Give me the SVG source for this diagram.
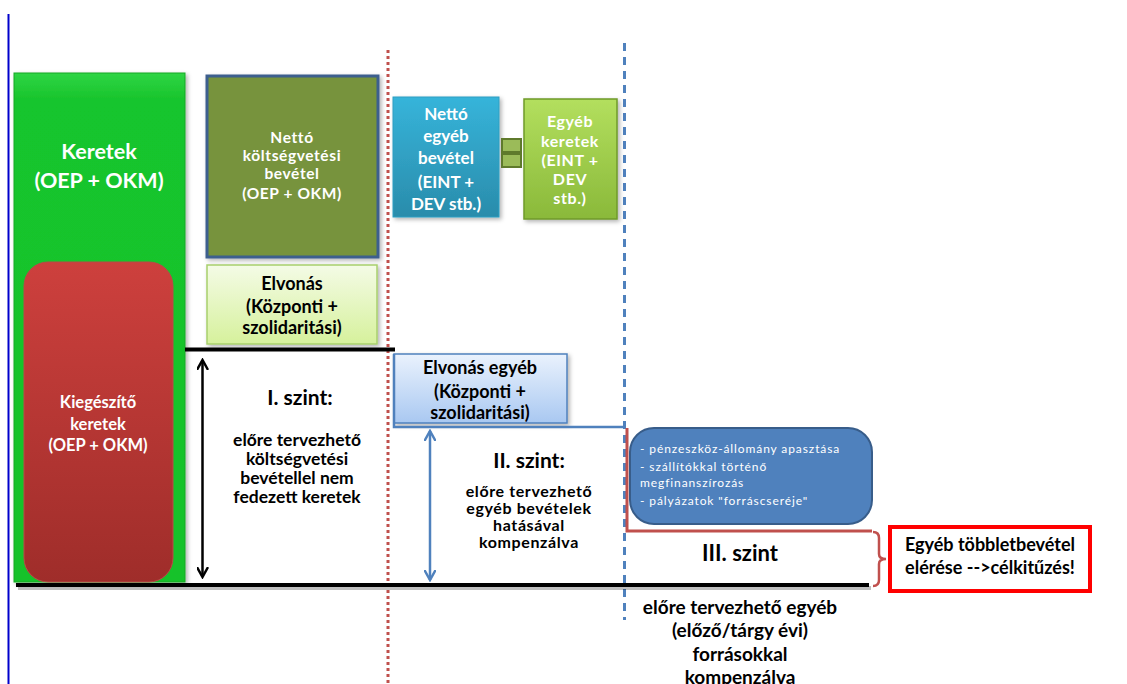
<svg xmlns="http://www.w3.org/2000/svg" width="1127" height="684" viewBox="0 0 1127 684">
<defs>
<linearGradient id="gGreen" x1="0" y1="0" x2="0" y2="1"><stop offset="0" stop-color="#2fd545"/><stop offset="0.05" stop-color="#19c52d"/><stop offset="1" stop-color="#17c22b"/></linearGradient>
<linearGradient id="gRed" x1="0" y1="0" x2="0" y2="1"><stop offset="0" stop-color="#cd403d"/><stop offset="1" stop-color="#9f2d2a"/></linearGradient>
<linearGradient id="gLight" x1="0" y1="0" x2="0" y2="1"><stop offset="0" stop-color="#f4fbe6"/><stop offset="1" stop-color="#d6f19c"/></linearGradient>
<linearGradient id="gCyan" x1="0" y1="0" x2="0" y2="1"><stop offset="0" stop-color="#36b4da"/><stop offset="1" stop-color="#2a8cab"/></linearGradient>
<linearGradient id="gLime" x1="0" y1="0" x2="0" y2="1"><stop offset="0" stop-color="#b3df5e"/><stop offset="1" stop-color="#8ab93a"/></linearGradient>
<linearGradient id="gSky" x1="0" y1="0" x2="0" y2="1"><stop offset="0" stop-color="#eaf2fd"/><stop offset="1" stop-color="#a9c8f1"/></linearGradient>
<filter id="sh" x="-10%" y="-10%" width="130%" height="130%"><feDropShadow dx="2" dy="2" stdDeviation="2" flood-color="#000" flood-opacity="0.3"/></filter>
<marker id="ahK" viewBox="0 0 12 12" refX="10" refY="6" markerWidth="12" markerHeight="12" markerUnits="userSpaceOnUse" orient="auto-start-reverse"><path d="M1,1 L10,6 L1,11" fill="none" stroke="#000" stroke-width="2.5" stroke-linecap="round"/></marker>
<marker id="ahB" viewBox="0 0 12 12" refX="10" refY="6" markerWidth="12" markerHeight="12" markerUnits="userSpaceOnUse" orient="auto-start-reverse"><path d="M1,1 L10,6 L1,11" fill="none" stroke="#4f81bd" stroke-width="2.5" stroke-linecap="round"/></marker>
</defs>
<style>
text{font-family:Lato,"Liberation Sans",sans-serif;font-weight:bold;text-anchor:middle}
.w{fill:#fff}
.k{fill:#000}
.bl{font-weight:normal;text-anchor:start;fill:#fff;font-size:12px;letter-spacing:0.9px}
</style>
<rect width="1127" height="684" fill="#fff"/>

<g id="guides">
<line x1="8.5" y1="14" x2="8.5" y2="684" stroke="#0000cc" stroke-width="2"/>
<line x1="388" y1="50" x2="388" y2="684" stroke="#c0504d" stroke-width="3" stroke-dasharray="3,3"/>
<line x1="624.5" y1="43" x2="624.5" y2="620" stroke="#4f81bd" stroke-width="3" stroke-dasharray="8,6"/>
</g>

<g id="keretek">
<rect x="14" y="73" width="171" height="509" fill="url(#gGreen)" stroke="#14a826" stroke-width="1" filter="url(#sh)"/>
<text class="w" font-size="21.5" x="99" y="159">Keretek</text>
<text class="w" font-size="21.5" x="99" y="188">(OEP + OKM)</text>
</g>

<g id="kiegeszito">
<rect x="24" y="262" width="149" height="320" rx="24" fill="url(#gRed)" stroke="#b84a46" stroke-width="1"/>
<text class="w" font-size="16.5" x="98" y="408">Kiegészítő</text>
<text class="w" font-size="16.5" x="98" y="430">keretek</text>
<text class="w" font-size="16.5" x="98" y="451">(OEP + OKM)</text>
</g>

<g id="netto-kv">
<rect x="207" y="76" width="171" height="181" fill="#77933c" stroke="#3d5f8e" stroke-width="3" filter="url(#sh)"/>
<text class="w" font-size="15.5" letter-spacing="0.6" x="292" y="143">Nettó</text>
<text class="w" font-size="15.5" letter-spacing="0.6" x="292" y="161">költségvetési</text>
<text class="w" font-size="15.5" letter-spacing="0.6" x="292" y="179">bevétel</text>
<text class="w" font-size="15.5" letter-spacing="0.6" x="292" y="199">(OEP + OKM)</text>
</g>

<g id="elvonas">
<rect x="207" y="265" width="170" height="79" fill="url(#gLight)" stroke="#a8cf6c" stroke-width="1.5" filter="url(#sh)"/>
<text class="k" font-size="18" x="292" y="290">Elvonás</text>
<text class="k" font-size="18" x="292" y="313">(Központi +</text>
<text class="k" font-size="18" x="292" y="334">szolidaritási)</text>
</g>

<g id="netto-egyeb">
<rect x="393" y="97" width="106" height="120" fill="url(#gCyan)" stroke="#2d9ec2" stroke-width="1" filter="url(#sh)"/>
<text class="w" font-size="17" x="446" y="120">Nettó</text>
<text class="w" font-size="17" x="446" y="142">egyéb</text>
<text class="w" font-size="17" x="446" y="164">bevétel</text>
<text class="w" font-size="17" x="446" y="188">(EINT +</text>
<text class="w" font-size="17" x="446" y="210">DEV stb.)</text>
</g>

<g id="equals">
<rect x="502" y="139" width="19" height="13" fill="#9bbb59" stroke="#5f7a2c" stroke-width="2"/>
<rect x="502" y="154" width="19" height="13" fill="#9bbb59" stroke="#5f7a2c" stroke-width="2"/>
</g>

<g id="egyeb-keretek">
<rect x="524" y="99" width="93" height="120" fill="url(#gLime)" stroke="#6f9a2a" stroke-width="1.5" filter="url(#sh)"/>
<text class="w" font-size="16" letter-spacing="0.6" x="570" y="127">Egyéb</text>
<text class="w" font-size="16" letter-spacing="0.6" x="570" y="147">keretek</text>
<text class="w" font-size="16" letter-spacing="0.6" x="570" y="166">(EINT +</text>
<text class="w" font-size="16" letter-spacing="0.6" x="570" y="185">DEV</text>
<text class="w" font-size="16" letter-spacing="0.6" x="570" y="204">stb.)</text>
</g>

<g id="elvonas-egyeb">
<rect x="394" y="354" width="173" height="69" fill="url(#gSky)" stroke="#4f81bd" stroke-width="1.5" filter="url(#sh)"/>
<text class="k" font-size="18" x="480" y="374">Elvonás  egyéb</text>
<text class="k" font-size="18" x="480" y="398">(Központi +</text>
<text class="k" font-size="18" x="480" y="419">szolidaritási)</text>
</g>

<g id="forrasok">
<rect x="630" y="428" width="242" height="96" rx="24" fill="#4f81bd" stroke="#385d8a" stroke-width="2"/>
<text class="bl" x="640" y="453">- pénzeszköz-állomány apasztása</text>
<text class="bl" x="640" y="471">- szállítókkal történő</text>
<text class="bl" x="640" y="487">megfinanszírozás</text>
<text class="bl" x="640" y="505">- pályázatok "forráscseréje"</text>
</g>

<g id="tobblet">
<rect x="890" y="527" width="200" height="64" fill="#fff" stroke="#ff0000" stroke-width="4"/>
<text class="k" font-size="18" x="990" y="551">Egyéb többletbevétel</text>
<text class="k" font-size="18" x="990" y="574">elérése --&gt;célkitűzés!</text>
</g>

<g id="levels">
<text class="k" font-size="21" x="300" y="405">I. szint:</text>
<text class="k" font-size="17.5" x="297" y="446">előre tervezhető</text>
<text class="k" font-size="17.5" x="297" y="465">költségvetési</text>
<text class="k" font-size="17.5" x="297" y="484">bevétellel nem</text>
<text class="k" font-size="17.5" x="297" y="503">fedezett keretek</text>
<text class="k" font-size="21" x="529" y="468">II. szint:</text>
<text class="k" font-size="16" letter-spacing="0.6" x="529" y="497">előre tervezhető</text>
<text class="k" font-size="16" letter-spacing="0.6" x="529" y="514">egyéb bevételek</text>
<text class="k" font-size="16" letter-spacing="0.6" x="529" y="531">hatásával</text>
<text class="k" font-size="16" letter-spacing="0.6" x="529" y="548">kompenzálva</text>
<text class="k" font-size="22" x="740" y="561">III. szint</text>
<text class="k" font-size="19" x="740" y="614">előre tervezhető egyéb</text>
<text class="k" font-size="19" x="740" y="637">(előző/tárgy évi)</text>
<text class="k" font-size="19" x="740" y="661">forrásokkal</text>
<text class="k" font-size="19" x="740" y="684">kompenzálva</text>
</g>

<g id="connectors" fill="none">
<line x1="185" y1="349.5" x2="395" y2="349.5" stroke="#000" stroke-width="4"/>
<line x1="18" y1="588" x2="871" y2="588" stroke="#000" stroke-opacity="0.25" stroke-width="4"/>
<line x1="16" y1="585" x2="869" y2="585" stroke="#000" stroke-width="4"/>
<polyline points="394,354 394,427 625,427" stroke="#4f81bd" stroke-width="2.5"/>
<polyline points="627,428 627,531 872,531" stroke="#c0504d" stroke-width="3"/>
<path d="M873,532 Q879,532 879,538 L879,554 Q879,559 886,559 Q879,559 879,564 L879,580 Q879,586 873,586" stroke="#c0504d" stroke-width="2.5"/>
<line x1="202.5" y1="360" x2="202.5" y2="577" stroke="#000" stroke-width="2.5" marker-start="url(#ahK)" marker-end="url(#ahK)"/>
<line x1="430" y1="431" x2="430" y2="580" stroke="#4f81bd" stroke-width="2.5" marker-start="url(#ahB)" marker-end="url(#ahB)"/>
</g>
</svg>
